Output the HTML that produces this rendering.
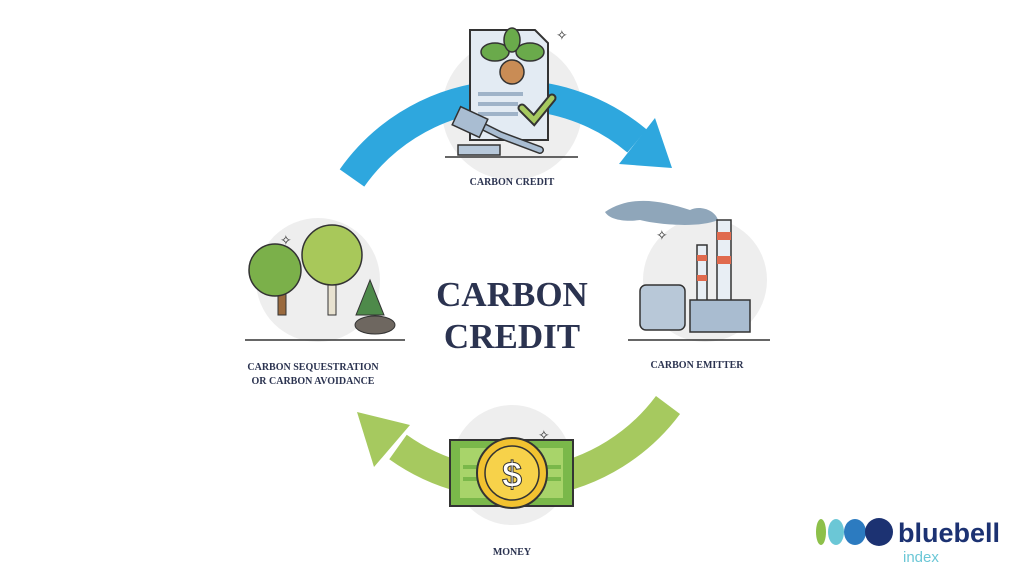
<!DOCTYPE html>
<html><head><style>
body{margin:0;width:1024px;height:576px;background:#fff;overflow:hidden;font-family:"Liberation Serif",serif}
</style></head><body>
<svg width="1024" height="576" viewBox="0 0 1024 576" xmlns="http://www.w3.org/2000/svg">
<circle cx="512" cy="110" r="70" fill="#eeeeee"/>
<circle cx="705" cy="280" r="62" fill="#eeeeee"/>
<circle cx="318" cy="280" r="62" fill="#eeeeee"/>
<circle cx="512" cy="465" r="60" fill="#eeeeee"/>
<path d="M352 178 A195 195 0 0 1 637 141" fill="none" stroke="#2ea7de" stroke-width="30"/>
<polygon points="655,118 619,164 672,168" fill="#2ea7de"/>
<path d="M668 405 A195 195 0 0 1 398 447" fill="none" stroke="#a6c95f" stroke-width="30"/>
<polygon points="374,467 410,425 357,412" fill="#a6c95f"/>
<path d="M470 30 L535 30 L548 43 L548 140 L470 140 Z" fill="#e3ebf3" stroke="#333" stroke-width="2"/>
<circle cx="512" cy="72" r="12" fill="#c98c55" stroke="#333" stroke-width="1.5"/>
<ellipse cx="495" cy="52" rx="14" ry="9" fill="#6aaa4b" stroke="#333" stroke-width="1.5"/>
<ellipse cx="530" cy="52" rx="14" ry="9" fill="#6aaa4b" stroke="#333" stroke-width="1.5"/>
<ellipse cx="512" cy="40" rx="8" ry="12" fill="#6aaa4b" stroke="#333" stroke-width="1.5"/>
<rect x="478" y="92" width="45" height="4" fill="#9fb3c8"/><rect x="478" y="102" width="40" height="4" fill="#9fb3c8"/><rect x="478" y="112" width="40" height="4" fill="#9fb3c8"/>
<path d="M522 108 L534 120 L552 98" fill="none" stroke="#333" stroke-width="9" stroke-linecap="round"/>
<path d="M522 108 L534 120 L552 98" fill="none" stroke="#a6c95f" stroke-width="5" stroke-linecap="round"/>
<rect x="458" y="145" width="42" height="10" fill="#b7c8da" stroke="#333" stroke-width="1.5"/>
<path d="M470 120 L500 135 L540 150" stroke="#333" stroke-width="8" stroke-linecap="round"/>
<path d="M470 120 L500 135 L540 150" stroke="#a9bdd2" stroke-width="5" stroke-linecap="round"/>
<rect x="455" y="112" width="30" height="20" fill="#a9bdd2" stroke="#333" stroke-width="1.5" transform="rotate(25 470 122)"/>
<line x1="445" y1="157" x2="578" y2="157" stroke="#333" stroke-width="1.5"/>
<text x="556" y="40" font-size="14" fill="#333">✧</text>
<text x="512" y="185" font-size="10" font-weight="bold" fill="#2b3350" text-anchor="middle">CARBON CREDIT</text>
<path d="M605 212 C630 195 660 200 690 210 C700 205 715 210 718 220 C700 228 660 225 640 220 C625 222 610 220 605 212Z" fill="#8fa6ba"/>
<rect x="717" y="220" width="14" height="90" fill="#e8eef4" stroke="#333" stroke-width="1.5"/>
<rect x="717" y="232" width="14" height="8" fill="#e06a4e"/><rect x="717" y="256" width="14" height="8" fill="#e06a4e"/>
<rect x="697" y="245" width="10" height="65" fill="#e8eef4" stroke="#333" stroke-width="1.5"/>
<rect x="697" y="255" width="10" height="6" fill="#e06a4e"/><rect x="697" y="275" width="10" height="6" fill="#e06a4e"/>
<rect x="640" y="285" width="45" height="45" rx="6" fill="#b8c8d8" stroke="#333" stroke-width="1.5"/>
<rect x="690" y="300" width="60" height="32" fill="#a9bcd0" stroke="#333" stroke-width="1.5"/>
<line x1="628" y1="340" x2="770" y2="340" stroke="#333" stroke-width="1.5"/>
<text x="656" y="240" font-size="14" fill="#333">✧</text>
<text x="697" y="368" font-size="10" font-weight="bold" fill="#2b3350" text-anchor="middle">CARBON EMITTER</text>
<rect x="278" y="275" width="8" height="40" fill="#9a6a3e" stroke="#333" stroke-width="1"/>
<circle cx="275" cy="270" r="26" fill="#7bb04a" stroke="#333" stroke-width="1.5"/>
<rect x="328" y="265" width="8" height="50" fill="#e8e2d0" stroke="#333" stroke-width="1"/>
<circle cx="332" cy="255" r="30" fill="#a8c85a" stroke="#333" stroke-width="1.5"/>
<polygon points="370,280 356,315 384,315" fill="#4e8a4a" stroke="#333" stroke-width="1"/>
<ellipse cx="375" cy="325" rx="20" ry="9" fill="#6e6760" stroke="#333" stroke-width="1"/>
<line x1="245" y1="340" x2="405" y2="340" stroke="#333" stroke-width="1.5"/>
<text x="280" y="245" font-size="14" fill="#333">✧</text>
<text x="313" y="370" font-size="10" font-weight="bold" fill="#2b3350" text-anchor="middle">CARBON SEQUESTRATION</text>
<text x="313" y="384" font-size="10" font-weight="bold" fill="#2b3350" text-anchor="middle">OR CARBON AVOIDANCE</text>
<rect x="450" y="440" width="123" height="66" fill="#7ab84a" stroke="#333" stroke-width="2"/>
<rect x="460" y="448" width="103" height="50" fill="#a8d46a"/>
<rect x="463" y="465" width="15" height="4" fill="#7ab84a"/><rect x="463" y="477" width="15" height="4" fill="#7ab84a"/>
<rect x="546" y="465" width="15" height="4" fill="#7ab84a"/><rect x="546" y="477" width="15" height="4" fill="#7ab84a"/>
<circle cx="512" cy="473" r="35" fill="#f2c230" stroke="#333" stroke-width="2"/>
<circle cx="512" cy="473" r="27" fill="#f7d24a" stroke="#333" stroke-width="1.5"/>
<text x="512" y="487" font-size="36" font-family="Liberation Sans,sans-serif" font-weight="bold" fill="#fff" stroke="#333" stroke-width="1" text-anchor="middle">$</text>
<text x="538" y="440" font-size="14" fill="#333">✧</text>
<text x="512" y="555" font-size="10" font-weight="bold" fill="#2b3350" text-anchor="middle">MONEY</text>
<text x="512" y="306" font-size="35" font-weight="bold" fill="#2b3350" text-anchor="middle">CARBON</text>
<text x="512" y="348" font-size="35" font-weight="bold" fill="#2b3350" text-anchor="middle">CREDIT</text>
<ellipse cx="821" cy="532" rx="5" ry="13" fill="#8dc04a"/>
<ellipse cx="836" cy="532" rx="8" ry="13" fill="#6bc7d6"/>
<ellipse cx="855" cy="532" rx="11" ry="13" fill="#2c7bc0"/>
<circle cx="879" cy="532" r="14" fill="#1c3272"/>
<text x="898" y="542" font-size="27" font-weight="bold" fill="#1c3272" font-family="Liberation Sans,sans-serif">bluebell</text>
<text x="903" y="562" font-size="15" fill="#6bc7d6" font-family="Liberation Sans,sans-serif">index</text>
</svg>
</body></html>
